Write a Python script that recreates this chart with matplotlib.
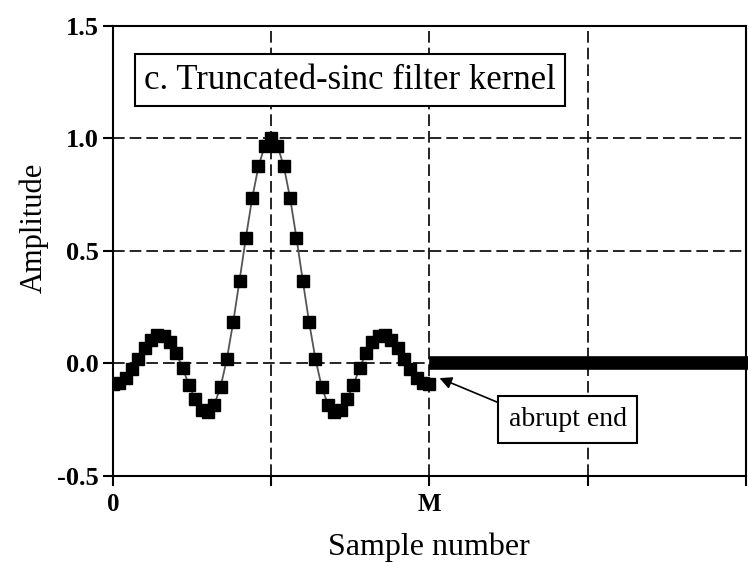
import matplotlib
matplotlib.use("Agg")
import matplotlib.pyplot as plt

# Truncated-sinc kernel samples, n = 0 .. M (M = 50)
kernel_left = [-0.091, -0.086, -0.063, -0.026, 0.020, 0.067, 0.105, 0.126, 0.124,
               0.097, 0.047, -0.020, -0.094, -0.160, -0.205, -0.216, -0.184,
               -0.105, 0.020, 0.183, 0.368, 0.558, 0.734, 0.876, 0.968]
kernel_peak = [1.0]
kernel = kernel_left + kernel_peak + kernel_left[::-1]
M = len(kernel) - 1
# Zero samples after the abrupt end, n = M+1 .. 2M
tail = [0.0] * M

n_kernel = list(range(0, M + 1))
n_tail = list(range(M + 1, 2 * M + 1))

y_ticks = [-0.5, 0.0, 0.5, 1.0, 1.5]
y_tick_labels = ["-0.5", "0.0", "0.5", "1.0", "1.5"]
x_ticks = [0, M // 2, M, 3 * M // 2, 2 * M]
x_tick_labels = ["0", "", "M", "", ""]

serif = ["Liberation Serif", "DejaVu Serif"]
plt.rcParams["font.family"] = serif

fig = plt.figure(figsize=(7.48, 5.63), dpi=100)
ax = fig.add_axes([0.151, 0.1545, 0.846, 0.7995])

ax.plot(n_kernel, kernel, color="#555555", lw=1.3, zorder=3)
ax.plot(n_kernel, kernel, ls="none", marker="s", ms=8.8, mfc="black", mec="black", zorder=4)
# the zero tail: samples sit so close they merge into one solid band
ax.plot(n_tail, tail, ls="-", lw=9.8, color="black", solid_capstyle="projecting",
        zorder=4, clip_on=False)

ax.set_xlim(0, 2 * M)
ax.set_ylim(-0.5, 1.5)
ax.set_xticks(x_ticks)
ax.set_xticklabels(x_tick_labels, fontsize=18, fontweight="bold")
ax.set_yticks(y_ticks)
ax.set_yticklabels(y_tick_labels, fontsize=19, fontweight="bold")
ax.tick_params(axis="both", direction="out", length=7, width=1.5, color="black")
ax.tick_params(axis="x", pad=5)
ax.tick_params(axis="y", pad=3)

for s in ax.spines.values():
    s.set_linewidth(1.5)
    s.set_color("black")

ax.grid(True, color="black", lw=1.2, ls=(0, (7, 3)))
ax.set_axisbelow(True)

ax.set_xlabel("Sample number", fontsize=23, labelpad=12)
ax.set_ylabel("Amplitude", fontsize=22)
ax.yaxis.set_label_coords(-0.102, 0.551)

ax.text(4.9, 1.258, "c. Truncated-sinc filter kernel", fontsize=25, va="center", ha="left",
        bbox=dict(boxstyle="square,pad=0.27", fc="white", ec="black", lw=1.5), zorder=6)

ax.annotate("abrupt end", xy=(51.6, -0.065), xytext=(71.9, -0.249),
            fontsize=20, ha="center", va="center",
            bbox=dict(boxstyle="square,pad=0.38", fc="white", ec="black", lw=1.5),
            arrowprops=dict(arrowstyle="-|>", color="black", lw=1.2, mutation_scale=18,
                            shrinkA=0, shrinkB=0, relpos=(0.0, 1.0)),
            zorder=6)

fig.savefig("out.png", dpi=100)
